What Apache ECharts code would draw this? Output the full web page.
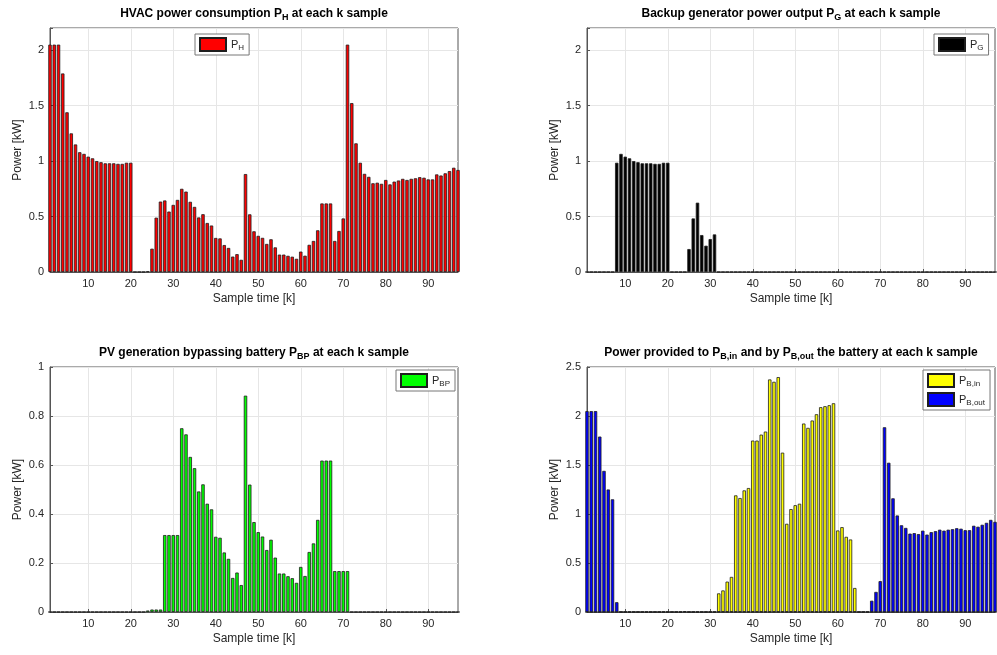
<!DOCTYPE html>
<html>
<head>
<meta charset="utf-8">
<script src="https://cdn.jsdelivr.net/npm/echarts@6/dist/echarts.min.js"></script>
<style>
html,body{margin:0;padding:0;background:#fff;}
#chart{width:997px;height:655px;}
</style>
</head>
<body>
<div id="chart"></div>
<script>
// sample index k = 1..97
const samples = [];
for (let k = 1; k <= 97; k++) samples.push(String(k));
const xTickLabels = ['10', '20', '30', '40', '50', '60', '70', '80', '90'];

// HVAC power P_H
const pH = [
  2.05, 2.05, 2.05, 1.79, 1.44, 1.25, 1.15, 1.08, 1.065, 1.04,
  1.025, 1.0, 0.99, 0.98, 0.98, 0.98, 0.975, 0.975, 0.985, 0.985,
  0, 0, 0, 0.006, 0.21, 0.49, 0.635, 0.645, 0.545, 0.605,
  0.65, 0.75, 0.725, 0.633, 0.587, 0.492, 0.521, 0.442, 0.419, 0.307,
  0.303, 0.243, 0.217, 0.139, 0.161, 0.11, 0.883, 0.52, 0.367, 0.326,
  0.308, 0.253, 0.295, 0.222, 0.157, 0.157, 0.146, 0.138, 0.119, 0.184,
  0.147, 0.245, 0.28, 0.376, 0.618, 0.618, 0.618, 0.28, 0.37, 0.483,
  2.05, 1.523, 1.16, 0.985, 0.885, 0.858, 0.80, 0.805, 0.795, 0.83,
  0.79, 0.815, 0.825, 0.84, 0.83, 0.84, 0.845, 0.855, 0.85, 0.835,
  0.835, 0.88, 0.87, 0.89, 0.91, 0.94, 0.92
];

// backup generator P_G
const pG = [
  0, 0, 0, 0, 0, 0, 0, 0.985, 1.065, 1.04,
  1.025, 1.0, 0.99, 0.98, 0.98, 0.98, 0.975, 0.975, 0.985, 0.985,
  0, 0, 0, 0, 0.207, 0.483, 0.625, 0.333, 0.237, 0.297,
  0.339, 0, 0, 0, 0, 0, 0, 0, 0, 0,
  0, 0, 0, 0, 0, 0, 0, 0, 0, 0,
  0, 0, 0, 0, 0, 0, 0, 0, 0, 0,
  0, 0, 0, 0, 0, 0, 0, 0, 0, 0,
  0, 0, 0, 0, 0, 0, 0, 0, 0, 0,
  0, 0, 0, 0, 0, 0, 0, 0, 0, 0,
  0, 0, 0, 0, 0, 0, 0
];

// PV bypassing battery P_BP
const pBP = [
  0, 0, 0, 0, 0, 0, 0, 0, 0, 0,
  0, 0, 0, 0, 0, 0, 0, 0, 0, 0,
  0, 0, 0, 0.006, 0.01, 0.01, 0.01, 0.314, 0.314, 0.314,
  0.314, 0.75, 0.725, 0.633, 0.587, 0.492, 0.521, 0.442, 0.419, 0.307,
  0.303, 0.243, 0.217, 0.139, 0.161, 0.11, 0.883, 0.52, 0.367, 0.326,
  0.308, 0.253, 0.295, 0.222, 0.157, 0.157, 0.146, 0.138, 0.119, 0.184,
  0.147, 0.245, 0.28, 0.376, 0.618, 0.618, 0.618, 0.167, 0.167, 0.167,
  0.167, 0, 0, 0, 0, 0, 0, 0, 0, 0,
  0, 0, 0, 0, 0, 0, 0, 0, 0, 0,
  0, 0, 0, 0, 0, 0, 0
];

// battery in P_B,in
const pBin = [
  0, 0, 0, 0, 0, 0, 0, 0, 0, 0,
  0, 0, 0, 0, 0, 0, 0, 0, 0, 0,
  0, 0, 0, 0.008, 0, 0, 0, 0, 0, 0,
  0, 0.19, 0.22, 0.31, 0.358, 1.19, 1.163, 1.241, 1.265, 1.749,
  1.749, 1.81, 1.841, 2.373, 2.349, 2.397, 1.626, 0.90, 1.05, 1.09,
  1.105, 1.923, 1.879, 1.954, 2.018, 2.09, 2.10, 2.11, 2.13, 0.832,
  0.866, 0.767, 0.74, 0.245, 0, 0, 0, 0, 0, 0,
  0, 0, 0, 0, 0, 0, 0, 0, 0, 0,
  0, 0, 0, 0, 0, 0, 0, 0, 0, 0,
  0, 0, 0, 0, 0, 0, 0
];

// battery out P_B,out
const pBout = [
  2.05, 2.05, 2.05, 1.79, 1.44, 1.25, 1.15, 0.1, 0, 0,
  0, 0, 0, 0, 0, 0, 0, 0, 0, 0,
  0, 0, 0, 0, 0, 0, 0, 0, 0, 0,
  0, 0, 0, 0, 0, 0, 0, 0, 0, 0,
  0, 0, 0, 0, 0, 0, 0, 0, 0, 0,
  0, 0, 0, 0, 0, 0, 0, 0, 0, 0,
  0, 0, 0, 0, 0, 0, 0, 0.115, 0.205, 0.315,
  1.885, 1.523, 1.16, 0.985, 0.885, 0.858, 0.80, 0.805, 0.795, 0.83,
  0.79, 0.815, 0.825, 0.84, 0.83, 0.84, 0.845, 0.855, 0.85, 0.835,
  0.835, 0.88, 0.87, 0.89, 0.91, 0.94, 0.92
];

const yMax = [2.2, 2.2, 1, 2.5];
const yStep = [0.5, 0.5, 0.2, 0.5];

const FONT = '"Liberation Sans", Arial, Helvetica, sans-serif';
const AXIS_COLOR = '#555';
const TEXT_COLOR = '#262626';
const GRID_COLOR = '#e6e6e6';

const grids = [
  { left: 50, top: 28, width: 408, height: 244 },
  { left: 587, top: 28, width: 408, height: 244 },
  { left: 50, top: 367, width: 408, height: 245 },
  { left: 587, top: 367, width: 408, height: 245 }
].map(g => Object.assign(g, { show: true, borderColor: AXIS_COLOR, borderWidth: 1, backgroundColor: '#fff' }));

const isTick = (idx, val) => xTickLabels.indexOf(val) >= 0;

function xAxis(i) {
  return {
    gridIndex: i,
    type: 'category',
    data: samples,
    boundaryGap: false,
    axisLine: { lineStyle: { color: AXIS_COLOR } },
    axisTick: { inside: true, length: 3, interval: isTick, lineStyle: { color: AXIS_COLOR } },
    axisLabel: { interval: isTick, color: TEXT_COLOR, fontSize: 11, fontFamily: FONT, margin: 6 },
    splitLine: { show: true, interval: isTick, lineStyle: { color: GRID_COLOR } },
    name: 'Sample time [k]',
    nameLocation: 'middle',
    nameGap: 21,
    nameTextStyle: { color: TEXT_COLOR, fontSize: 12, fontFamily: FONT }
  };
}

function yAxis(i) {
  return {
    gridIndex: i,
    type: 'value',
    min: 0,
    max: yMax[i],
    interval: yStep[i],
    axisLine: { show: true, lineStyle: { color: AXIS_COLOR } },
    axisTick: { show: true, inside: true, length: 3, lineStyle: { color: AXIS_COLOR } },
    axisLabel: {
      color: TEXT_COLOR, fontSize: 11, fontFamily: FONT, margin: 6,
      formatter: v => (Math.abs(v / yStep[i] - Math.round(v / yStep[i])) < 1e-6 ? String(+v.toFixed(2)) : '')
    },
    splitLine: { show: true, lineStyle: { color: GRID_COLOR } },
    name: 'Power [kW]',
    nameLocation: 'middle',
    nameGap: 26,
    nameTextStyle: { color: TEXT_COLOR, fontSize: 12, fontFamily: FONT }
  };
}

const titleRich = {
  b: { fontSize: 12, fontWeight: 'bold', color: '#000', fontFamily: FONT },
  s: { fontSize: 9, fontWeight: 'bold', color: '#000', fontFamily: FONT, padding: [8, 0, 0, 0] }
};
function title(text, x, y) {
  return { text: text, left: x, top: y, textAlign: 'center', padding: 0, textStyle: { rich: titleRich } };
}

const legendNames = { PH: 'H', PG: 'G', PBP: 'BP', PBin: 'B,in', PBout: 'B,out' };
function legend(names, x, y) {
  return {
    data: names,
    left: x, top: y,
    orient: 'vertical',
    icon: 'rect',
    itemWidth: 26, itemHeight: 13, itemGap: 4,
    padding: [3, 5, 3, 4],
    borderColor: '#777', borderWidth: 1, backgroundColor: '#fff',
    selectedMode: false,
    formatter: n => '{p|P}{s|' + legendNames[n] + '}',
    textStyle: {
      rich: {
        p: { fontSize: 11, color: TEXT_COLOR, fontFamily: FONT },
        s: { fontSize: 8, color: TEXT_COLOR, fontFamily: FONT, padding: [7, 0, 0, 0] }
      }
    }
  };
}

function bars(name, data, i, color) {
  return {
    name: name, type: 'bar', xAxisIndex: i, yAxisIndex: i, data: data,
    barCategoryGap: '20%', barGap: '-100%', clip: true,
    itemStyle: { color: color, borderColor: '#1e1e1e', borderWidth: 0.8 },
    emphasis: { disabled: true },
    animation: false
  };
}

const chart = echarts.init(document.getElementById('chart'), null, { renderer: 'canvas' });
chart.setOption({
  backgroundColor: '#fff',
  animation: false,
  title: [
    title('{b|HVAC power consumption P}{s|H}{b| at each k sample}', 254, 5),
    title('{b|Backup generator power output P}{s|G}{b| at each k sample}', 791, 5),
    title('{b|PV generation bypassing battery P}{s|BP}{b| at each k sample}', 254, 344),
    title('{b|Power provided to P}{s|B,in}{b| and by P}{s|B,out}{b| the battery at each k sample}', 791, 344)
  ],
  legend: [
    legend(['PH'], 195, 34),
    legend(['PG'], 934, 34),
    legend(['PBP'], 396, 370),
    legend(['PBin', 'PBout'], 923, 370)
  ],
  grid: grids,
  xAxis: [0, 1, 2, 3].map(xAxis),
  yAxis: [0, 1, 2, 3].map(yAxis),
  series: [
    bars('PH', pH, 0, '#ff0000'),
    bars('PG', pG, 1, '#000000'),
    bars('PBP', pBP, 2, '#00ff00'),
    bars('PBin', pBin, 3, '#ffff00'),
    bars('PBout', pBout, 3, '#0000ff')
  ]
});
</script>
</body>
</html>
